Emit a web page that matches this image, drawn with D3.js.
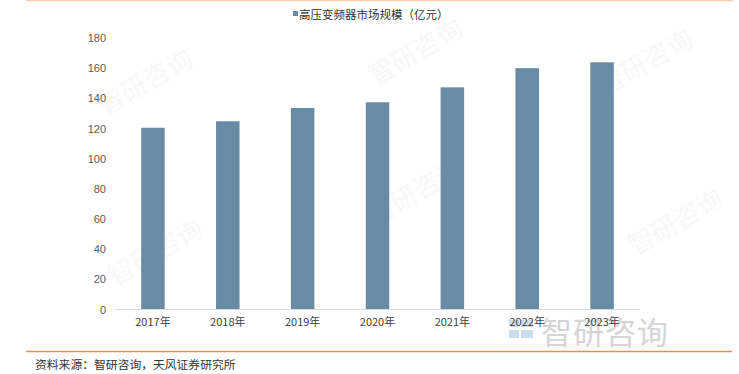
<!DOCTYPE html>
<html>
<head>
<meta charset="utf-8">
<script src="https://cdn.jsdelivr.net/npm/d3@7"></script>
<style>
  body { margin: 0; background: #fff; }
  text { font-family: "Noto Sans CJK SC", "DejaVu Sans", sans-serif; }
</style>
</head>
<body>
<div id="chart-area"></div>
<script>
// data
let years = ["2017年", "2018年", "2019年", "2020年", "2021年", "2022年", "2023年"];
let marketSize = [120.5, 124.8, 133.6, 137.4, 147.3, 160, 163.9];
let yTicks = [0, 20, 40, 60, 80, 100, 120, 140, 160, 180];
let legendName = "高压变频器市场规模（亿元）";
let sourceNote = "资料来源：智研咨询，天风证券研究所";

const W = 739, H = 374;
const svg = d3.select("#chart-area").append("svg")
  .attr("width", W).attr("height", H);

let x = d3.scaleBand().domain(years).range([115.5, 639.5]).paddingInner(0.686).paddingOuter(0.343);
let y = d3.scaleLinear().domain([0, 180]).range([309.5, 38]);

// faint watermarks
let marks = [[150, 90], [420, 60], [650, 70], [160, 260], [420, 200], [680, 230]];
marks.forEach(m => {
  svg.append("text")
    .attr("transform", `translate(${m[0]},${m[1]}) rotate(-30)`)
    .attr("text-anchor", "middle")
    .attr("font-size", 26)
    .attr("fill", "#7a8fa8")
    .attr("opacity", 0.05)
    .text("智研咨询");
});

// top and bottom rules
svg.append("line").attr("x1", 26).attr("x2", 733).attr("y1", 0.5).attr("y2", 0.5)
  .attr("stroke", "#f8cdb4").attr("stroke-width", 1.5);
svg.append("line").attr("x1", 26).attr("x2", 732).attr("y1", 351.5).attr("y2", 351.5)
  .attr("stroke", "#ed8a4c").attr("stroke-width", 1.5);

// bottom watermark logo (under the labels)
let wm = svg.append("g").attr("transform", "translate(509,320)");
[[0, 0, 10, 7], [12, 0, 12, 7], [0, 10, 10, 8], [12, 10, 12, 8]].forEach(r => {
  wm.append("rect").attr("x", r[0]).attr("y", r[1]).attr("width", r[2]).attr("height", r[3])
    .attr("fill", "#b8cde6").attr("opacity", 0.7);
});
svg.append("text").attr("x", 541).attr("y", 344)
  .attr("font-size", 31).attr("fill", "#c4c4c4").attr("opacity", 0.7)
  .attr("letter-spacing", 1)
  .text("智研咨询");

// bars
svg.selectAll("rect.bar").data(years).join("rect")
  .attr("class", "bar")
  .attr("x", d => x(d))
  .attr("width", x.bandwidth())
  .attr("y", (d, i) => y(marketSize[i]))
  .attr("height", (d, i) => y(0) - y(marketSize[i]))
  .attr("fill", "#688ca5");

// y axis labels
let yAxis = d3.axisLeft(y).tickValues(yTicks).tickSize(0).tickPadding(0);
let gy = svg.append("g").attr("transform", "translate(106,0)").call(yAxis);
gy.select(".domain").remove();
gy.selectAll("text").attr("font-size", 11).attr("fill", "#595959")
  .style("font-family", "'Liberation Sans', Arial, sans-serif");

// x axis
let xAxis = d3.axisBottom(x).tickSize(0).tickPadding(9);
let gx = svg.append("g").attr("transform", `translate(0,${y(0)})`).call(xAxis);
gx.select(".domain").attr("stroke", "#d9d9d9").attr("d", "M115.5,0H639.5");
gx.selectAll("text").attr("font-size", 11).attr("fill", "#404040");

// legend
svg.append("rect").attr("x", 293).attr("y", 11).attr("width", 5).attr("height", 5).attr("fill", "#688ca5");
svg.append("text").attr("x", 299).attr("y", 18.5)
  .attr("font-size", 11.5).attr("fill", "#333")
  .text(legendName);

// source note
svg.append("text").attr("x", 35).attr("y", 369)
  .attr("font-size", 11.8).attr("fill", "#333")
  .text(sourceNote);
</script>
</body>
</html>
